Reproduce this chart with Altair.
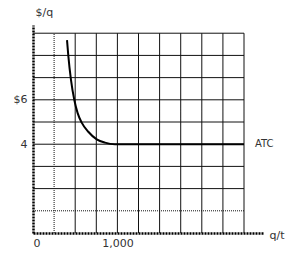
import altair as alt
import pandas as pd

# ATC curve
q = [403, 418, 450, 489, 529, 577, 655, 755, 853, 971, 1000, 1500, 2000, 2500]
atc = [8.69, 8.0, 6.9, 6.0, 5.4, 4.97, 4.56, 4.22, 4.07, 4.0, 4.0, 4.0, 4.0, 4.0]

grid_x = [250, 500, 750, 1000, 1250, 1500, 1750, 2000, 2250, 2500]
grid_y = [1, 2, 3, 4, 5, 6, 7, 8, 9]
dotted_x = [250]
dotted_y = [1]

x_ticks = [0, 1000]
x_tick_labels = ["0", "1,000"]
y_ticks = [4, 6]
y_tick_labels = ["4", "$6"]

curve = pd.DataFrame({"q": q, "atc": atc})
gx = pd.DataFrame({"q": grid_x, "y0": 0, "y1": 9, "dot": [v in dotted_x for v in grid_x]})
gy = pd.DataFrame({"p": grid_y, "x0": 0, "x1": 2500, "dot": [v in dotted_y for v in grid_y]})
lab = pd.DataFrame({"q": [q[-1]], "atc": [atc[-1]], "t": ["ATC"]})

FONT = "DejaVu Sans"
xs = alt.Scale(domain=[0, 2725], nice=False, zero=False)
ys = alt.Scale(domain=[0, 9.37], nice=False, zero=False)

xlabel_expr = "{" + ",".join(f"'{v}':'{l}'" for v, l in zip(x_ticks, x_tick_labels)) + "}[datum.value]"
ylabel_expr = "{" + ",".join(f"'{v}':'{l}'" for v, l in zip(y_ticks, y_tick_labels)) + "}[datum.value]"

xaxis = alt.Axis(values=x_ticks, labelExpr=xlabel_expr, ticks=False, grid=False,
                 domainColor="#000", domainWidth=2.5, domainDash=[2, 1],
                 labelFont=FONT, labelFontSize=11, labelColor="#333", labelPadding=4,
                 title="q/t", titleFont=FONT, titleFontSize=11, titleFontWeight="normal",
                 titleColor="#333", titleAngle=0, titleAlign="left", titleBaseline="middle",
                 titleX=236, titleY=2)
yaxis = alt.Axis(values=y_ticks, labelExpr=ylabel_expr, ticks=False, grid=False,
                 domainColor="#000", domainWidth=2.5, domainDash=[2, 1],
                 labelFont=FONT, labelFontSize=11, labelColor="#333", labelPadding=6,
                 title="$/q", titleFont=FONT, titleFontSize=11, titleFontWeight="normal",
                 titleColor="#333", titleAngle=0, titleAlign="left", titleBaseline="middle",
                 titleX=2, titleY=-13)

vlines = alt.Chart(gx).mark_rule(color="#111", strokeWidth=1).encode(
    x=alt.X("q:Q", scale=xs, axis=xaxis),
    y=alt.Y("y0:Q", scale=ys, axis=yaxis),
    y2="y1:Q",
    strokeDash=alt.condition("datum.dot", alt.value([1, 1]), alt.value([1, 0])),
)
hlines = alt.Chart(gy).mark_rule(color="#111", strokeWidth=1).encode(
    y=alt.Y("p:Q", scale=ys),
    x=alt.X("x0:Q", scale=xs),
    x2="x1:Q",
    strokeDash=alt.condition("datum.dot", alt.value([1, 1]), alt.value([1, 0])),
)
line = alt.Chart(curve).mark_line(color="#000", strokeWidth=2, interpolate="monotone").encode(
    x=alt.X("q:Q", scale=xs), y=alt.Y("atc:Q", scale=ys)
)
text = alt.Chart(lab).mark_text(align="left", baseline="middle", dx=11, font=FONT,
                                fontSize=10, color="#333").encode(
    x=alt.X("q:Q", scale=xs), y=alt.Y("atc:Q", scale=ys), text="t:N"
)

chart = alt.layer(vlines, hlines, line, text).properties(
    width=230, height=208,
    autosize=alt.AutoSizeParams(type="none"),
    padding={"left": 33, "top": 25, "right": 36, "bottom": 24},
).configure_view(stroke=None)

chart.save("out.html", embed_options={"renderer": "svg", "actions": False})
